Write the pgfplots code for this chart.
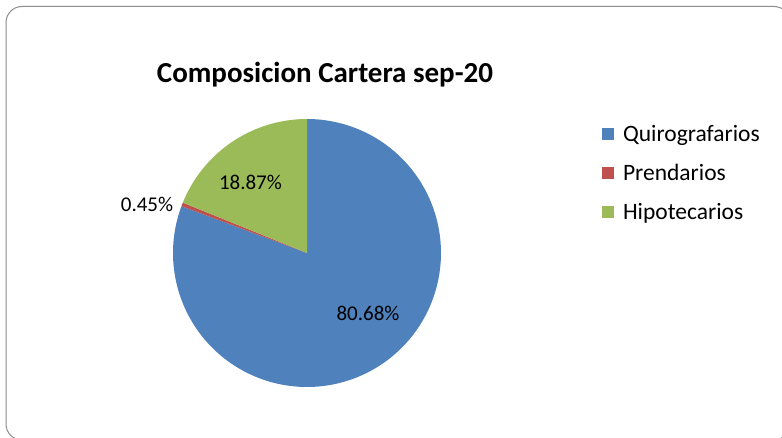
\documentclass[border=0pt]{standalone}
\usepackage{fontspec}
\setmainfont{Carlito}
\usepackage{pgfplots}
\pgfplotsset{compat=1.18}
\definecolor{qblue}{HTML}{4F81BD}
\definecolor{qred}{HTML}{C0504D}
\definecolor{qgreen}{HTML}{9BBB59}
\definecolor{frame}{HTML}{8C8C8C}
% data (percent)
\def\vQ{80.68}
\def\vP{0.45}
\def\vH{18.87}
\begin{document}
\begin{tikzpicture}[x=1pt,y=1pt]
\useasboundingbox (0,0) rectangle (782,437);
\draw[draw=frame, line width=1pt, rounded corners=16pt] (6,-3) rectangle (790,430.5);
\pgfmathsetmacro\aA{90}
\pgfmathsetmacro\aB{90-3.6*\vQ}
\pgfmathsetmacro\aC{\aB-3.6*\vP}
\pgfmathsetmacro\aD{\aC-3.6*\vH}
\node[anchor=base, font=\fontsize{29}{34}\selectfont\bfseries] at (325,354) {Composicion Cartera sep-20};
\begin{axis}[at={(307pt,184pt)}, anchor=center, width=268pt, height=268pt, scale only axis,
  xmin=-1, xmax=1, ymin=-1, ymax=1, hide axis, clip=false,
  legend image code/.code={\fill[#1] (0pt,-6pt) rectangle (12pt,6pt); \path (19pt,0pt);},
  legend style={draw=none, fill=none, at={(axis description cs:1.6,0.7985)}, anchor=west,
    font=\fontsize{23.5}{28}\selectfont, row sep=17pt, inner sep=0pt,
    nodes={inner sep=2pt}},
  legend cell align=left]
\addplot[draw=none, fill=qblue, domain=\aB:\aA, samples=150] ({cos(x)},{sin(x)}) -- (axis cs:0,0) -- cycle;
\addplot[draw=none, fill=qred, domain=\aC:\aB, samples=5] ({cos(x)},{sin(x)}) -- (axis cs:0,0) -- cycle;
\addplot[draw=none, fill=qgreen, domain=\aD:\aC, samples=40] ({cos(x)},{sin(x)}) -- (axis cs:0,0) -- cycle;
\legend{Quirografarios,Prendarios,Hipotecarios}
\node[anchor=base, font=\fontsize{21}{25}\selectfont] at (axis cs:0.455,-0.507) {80.68\%};
\node[anchor=base, font=\fontsize{21}{25}\selectfont] at (axis cs:-0.422,0.475) {18.87\%};
\node[anchor=base, font=\fontsize{21}{25}\selectfont] at (axis cs:-1.194,0.308) {0.45\%};
\end{axis}
\end{tikzpicture}
\end{document}
